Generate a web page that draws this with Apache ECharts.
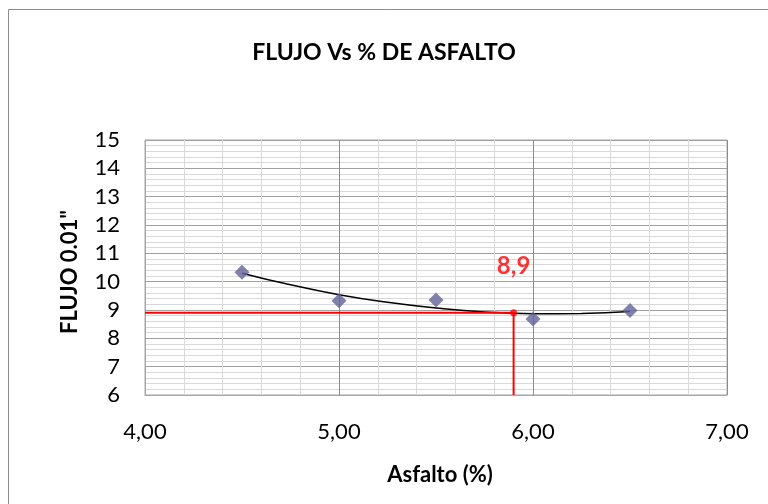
<!DOCTYPE html>
<html>
<head>
<meta charset="utf-8">
<script src="https://cdn.jsdelivr.net/npm/echarts@6/dist/echarts.min.js"></script>
<style>
  html, body { margin: 0; padding: 0; background: #ffffff; }
  #chart { width: 768px; height: 504px; }
</style>
</head>
<body>
<div id="chart"></div>
<script>
// Ensayo Marshall: flujo frente a contenido de asfalto
const asfalto = [4.5, 5.0, 5.5, 6.0, 6.5];
const flujo = [10.33, 9.33, 9.35, 8.68, 8.98];

// Curva de tendencia (polinómica de 2º orden)
const tendenciaX = [4.5, 4.75, 5.0, 5.25, 5.5, 5.75, 6.0, 6.25, 6.5];
const tendenciaY = [10.30, 9.89, 9.54, 9.27, 9.07, 8.93, 8.87, 8.88, 8.95];

// Contenido óptimo de asfalto y flujo correspondiente
const asfaltoOptimo = 5.9;
const flujoOptimo = 8.9;

const ejeX = { min: 4, max: 7, interval: 1 };
const ejeY = { min: 6, max: 15, interval: 1 };

const coma = (v, d) => v.toFixed(d).replace('.', ',');
const fuente = 'Lato, "Open Sans", sans-serif';

const chart = echarts.init(document.getElementById('chart'), null, { renderer: 'canvas' });

chart.setOption({
  backgroundColor: '#ffffff',
  animation: false,
  title: {
    text: 'FLUJO Vs % DE ASFALTO',
    left: 'center',
    top: 41,
    padding: 0,
    textStyle: { fontFamily: fuente, fontWeight: 'bold', fontSize: 23, color: '#000000' }
  },
  grid: {
    left: 145, right: 41, top: 140, bottom: 109,
    show: true, borderColor: '#a6a6a6', borderWidth: 1, backgroundColor: 'transparent'
  },
  xAxis: {
    type: 'value',
    min: ejeX.min, max: ejeX.max, interval: ejeX.interval,
    axisLine: { show: true, lineStyle: { color: '#a6a6a6' } },
    axisTick: { show: false },
    axisLabel: {
      margin: 26, fontFamily: fuente, fontSize: 22, color: '#000000',
      formatter: v => coma(v, 2)
    },
    splitLine: { show: true, lineStyle: { color: '#8c8c8c', width: 1 } },
    minorTick: { show: false, splitNumber: 5 },
    minorSplitLine: { show: true, lineStyle: { color: '#d9d9d9', width: 1 } }
  },
  yAxis: {
    type: 'value',
    min: ejeY.min, max: ejeY.max, interval: ejeY.interval,
    axisLine: { show: true, lineStyle: { color: '#a6a6a6' } },
    axisTick: { show: false },
    axisLabel: { margin: 25, fontFamily: fuente, fontSize: 22, color: '#000000' },
    splitLine: { show: true, lineStyle: { color: '#a0a0a0', width: 1 } },
    minorTick: { show: false, splitNumber: 5 },
    minorSplitLine: { show: true, lineStyle: { color: '#d9d9d9', width: 1 } }
  },
  graphic: [
    {
      type: 'rect', silent: true, z: -1,
      shape: { x: 8.5, y: 9.5, width: 800, height: 600 },
      style: { fill: 'none', stroke: '#8c8c8c', lineWidth: 1 }
    },
    {
      type: 'text', x: 440, y: 475,
      style: {
        text: 'Asfalto (%)', fontFamily: fuente, fontWeight: 'bold', fontSize: 22,
        fill: '#000000', textAlign: 'center', textVerticalAlign: 'middle'
      }
    },
    {
      type: 'text', x: 70, y: 272, rotation: Math.PI / 2,
      style: {
        text: 'FLUJO 0.01"', fontFamily: fuente, fontWeight: 'bold', fontSize: 22,
        fill: '#000000', textAlign: 'center', textVerticalAlign: 'middle'
      }
    }
  ],
  series: [
    {
      name: 'Tendencia',
      type: 'line',
      data: tendenciaX.map((x, i) => [x, tendenciaY[i]]),
      smooth: true,
      showSymbol: false,
      lineStyle: { color: '#000000', width: 1.5 },
      z: 3
    },
    {
      name: 'Óptimo',
      type: 'line',
      data: [[ejeX.min, flujoOptimo], [asfaltoOptimo, flujoOptimo], [asfaltoOptimo, ejeY.min]],
      showSymbol: false,
      lineStyle: { color: '#ff0000', width: 2 },
      z: 4
    },
    {
      name: 'Flujo',
      type: 'scatter',
      data: asfalto.map((x, i) => [x, flujo[i]]),
      symbol: 'diamond',
      symbolSize: 15,
      itemStyle: { color: '#62629a' },
      z: 5
    },
    {
      name: 'Valor óptimo',
      type: 'scatter',
      data: [[asfaltoOptimo, flujoOptimo]],
      symbol: 'circle',
      symbolSize: 7,
      itemStyle: { color: '#ff0000' },
      label: {
        show: true,
        position: 'top',
        distance: 31,
        formatter: p => coma(p.value[1], 1),
        fontFamily: fuente, fontWeight: 'bold', fontSize: 24, color: '#ff0000'
      },
      z: 6
    }
  ]
});
</script>
</body>
</html>
